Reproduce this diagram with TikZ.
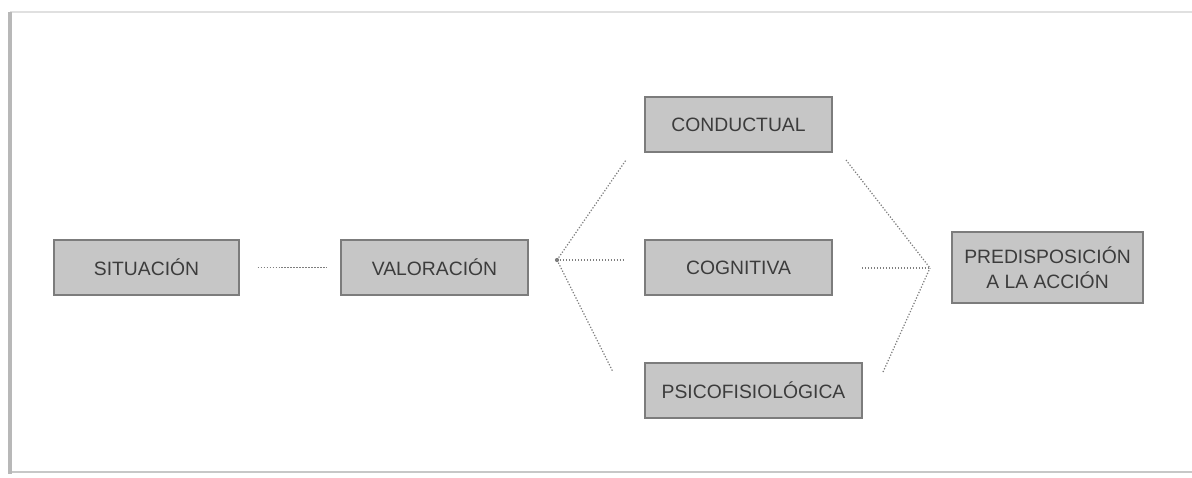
\documentclass[tikz,border=0pt]{standalone}
\usepackage{fontspec}
\setmainfont{Liberation Sans}
\definecolor{boxfill}{HTML}{C6C6C6}
\definecolor{boxline}{HTML}{7C7C7C}
\definecolor{boxtext}{HTML}{3C3C3C}
\definecolor{dotline}{HTML}{7E7E7E}
\begin{document}
\begin{tikzpicture}
  [x=0.02cm,y=-0.02cm,
   every node/.style={rectangle,draw=boxline,fill=boxfill,line width=0.7pt,
     text=boxtext,font={\fontsize{11}{14}\selectfont},minimum height=1.1cm,
     inner sep=2pt,align=center},
   link/.style={draw=dotline,densely dotted,line width=0.7pt}]
  \useasboundingbox (0,0) rectangle (1192,477);
  % frame
  \draw[white!88!black,line width=0.6pt] (10,12) -- (1192,12);
  \draw[white!78!black,line width=0.8pt] (10,472) -- (1192,472);
  \draw[white!72!black,line width=2pt] (10,12) -- (10,474);

  \node (sit) at (146.5,267.5) [minimum width=3.7cm] {SITUACIÓN};
  \node (val) at (434.5,267.5) [minimum width=3.74cm] {VALORACIÓN};
  \node (cond) at (738.5,124.5) [minimum width=3.74cm] {CONDUCTUAL};
  \node (cog) at (738.5,267.5) [minimum width=3.74cm] {COGNITIVA};
  \node (psico) at (753.5,390.5) [minimum width=4.34cm] {PSICOFISIOLÓGICA};
  \node (pred) at (1047.5,267.5) [minimum width=3.82cm,minimum height=1.42cm]
    {PREDISPOSICIÓN\\A LA ACCIÓN};

  % fan points and free ends
  \coordinate (fanL) at (557,260);
  \coordinate (fanR) at (930,268);
  \coordinate (lu) at (626,160);
  \coordinate (lm) at (625,260);
  \coordinate (ld) at (613,372);
  \coordinate (ru) at (846,160);
  \coordinate (rm) at (862,268);
  \coordinate (rd) at (883,372);

  \draw[link,shorten <=0.36cm,shorten >=0.28cm] (sit.east) -- (val.west);
  \foreach \from/\to in {fanL/lu,fanL/lm,fanL/ld,ru/fanR,rm/fanR,rd/fanR}
    \draw[link] (\from) -- (\to);
  \fill[dotline] (fanL) circle (1.2pt);

\end{tikzpicture}
\end{document}
